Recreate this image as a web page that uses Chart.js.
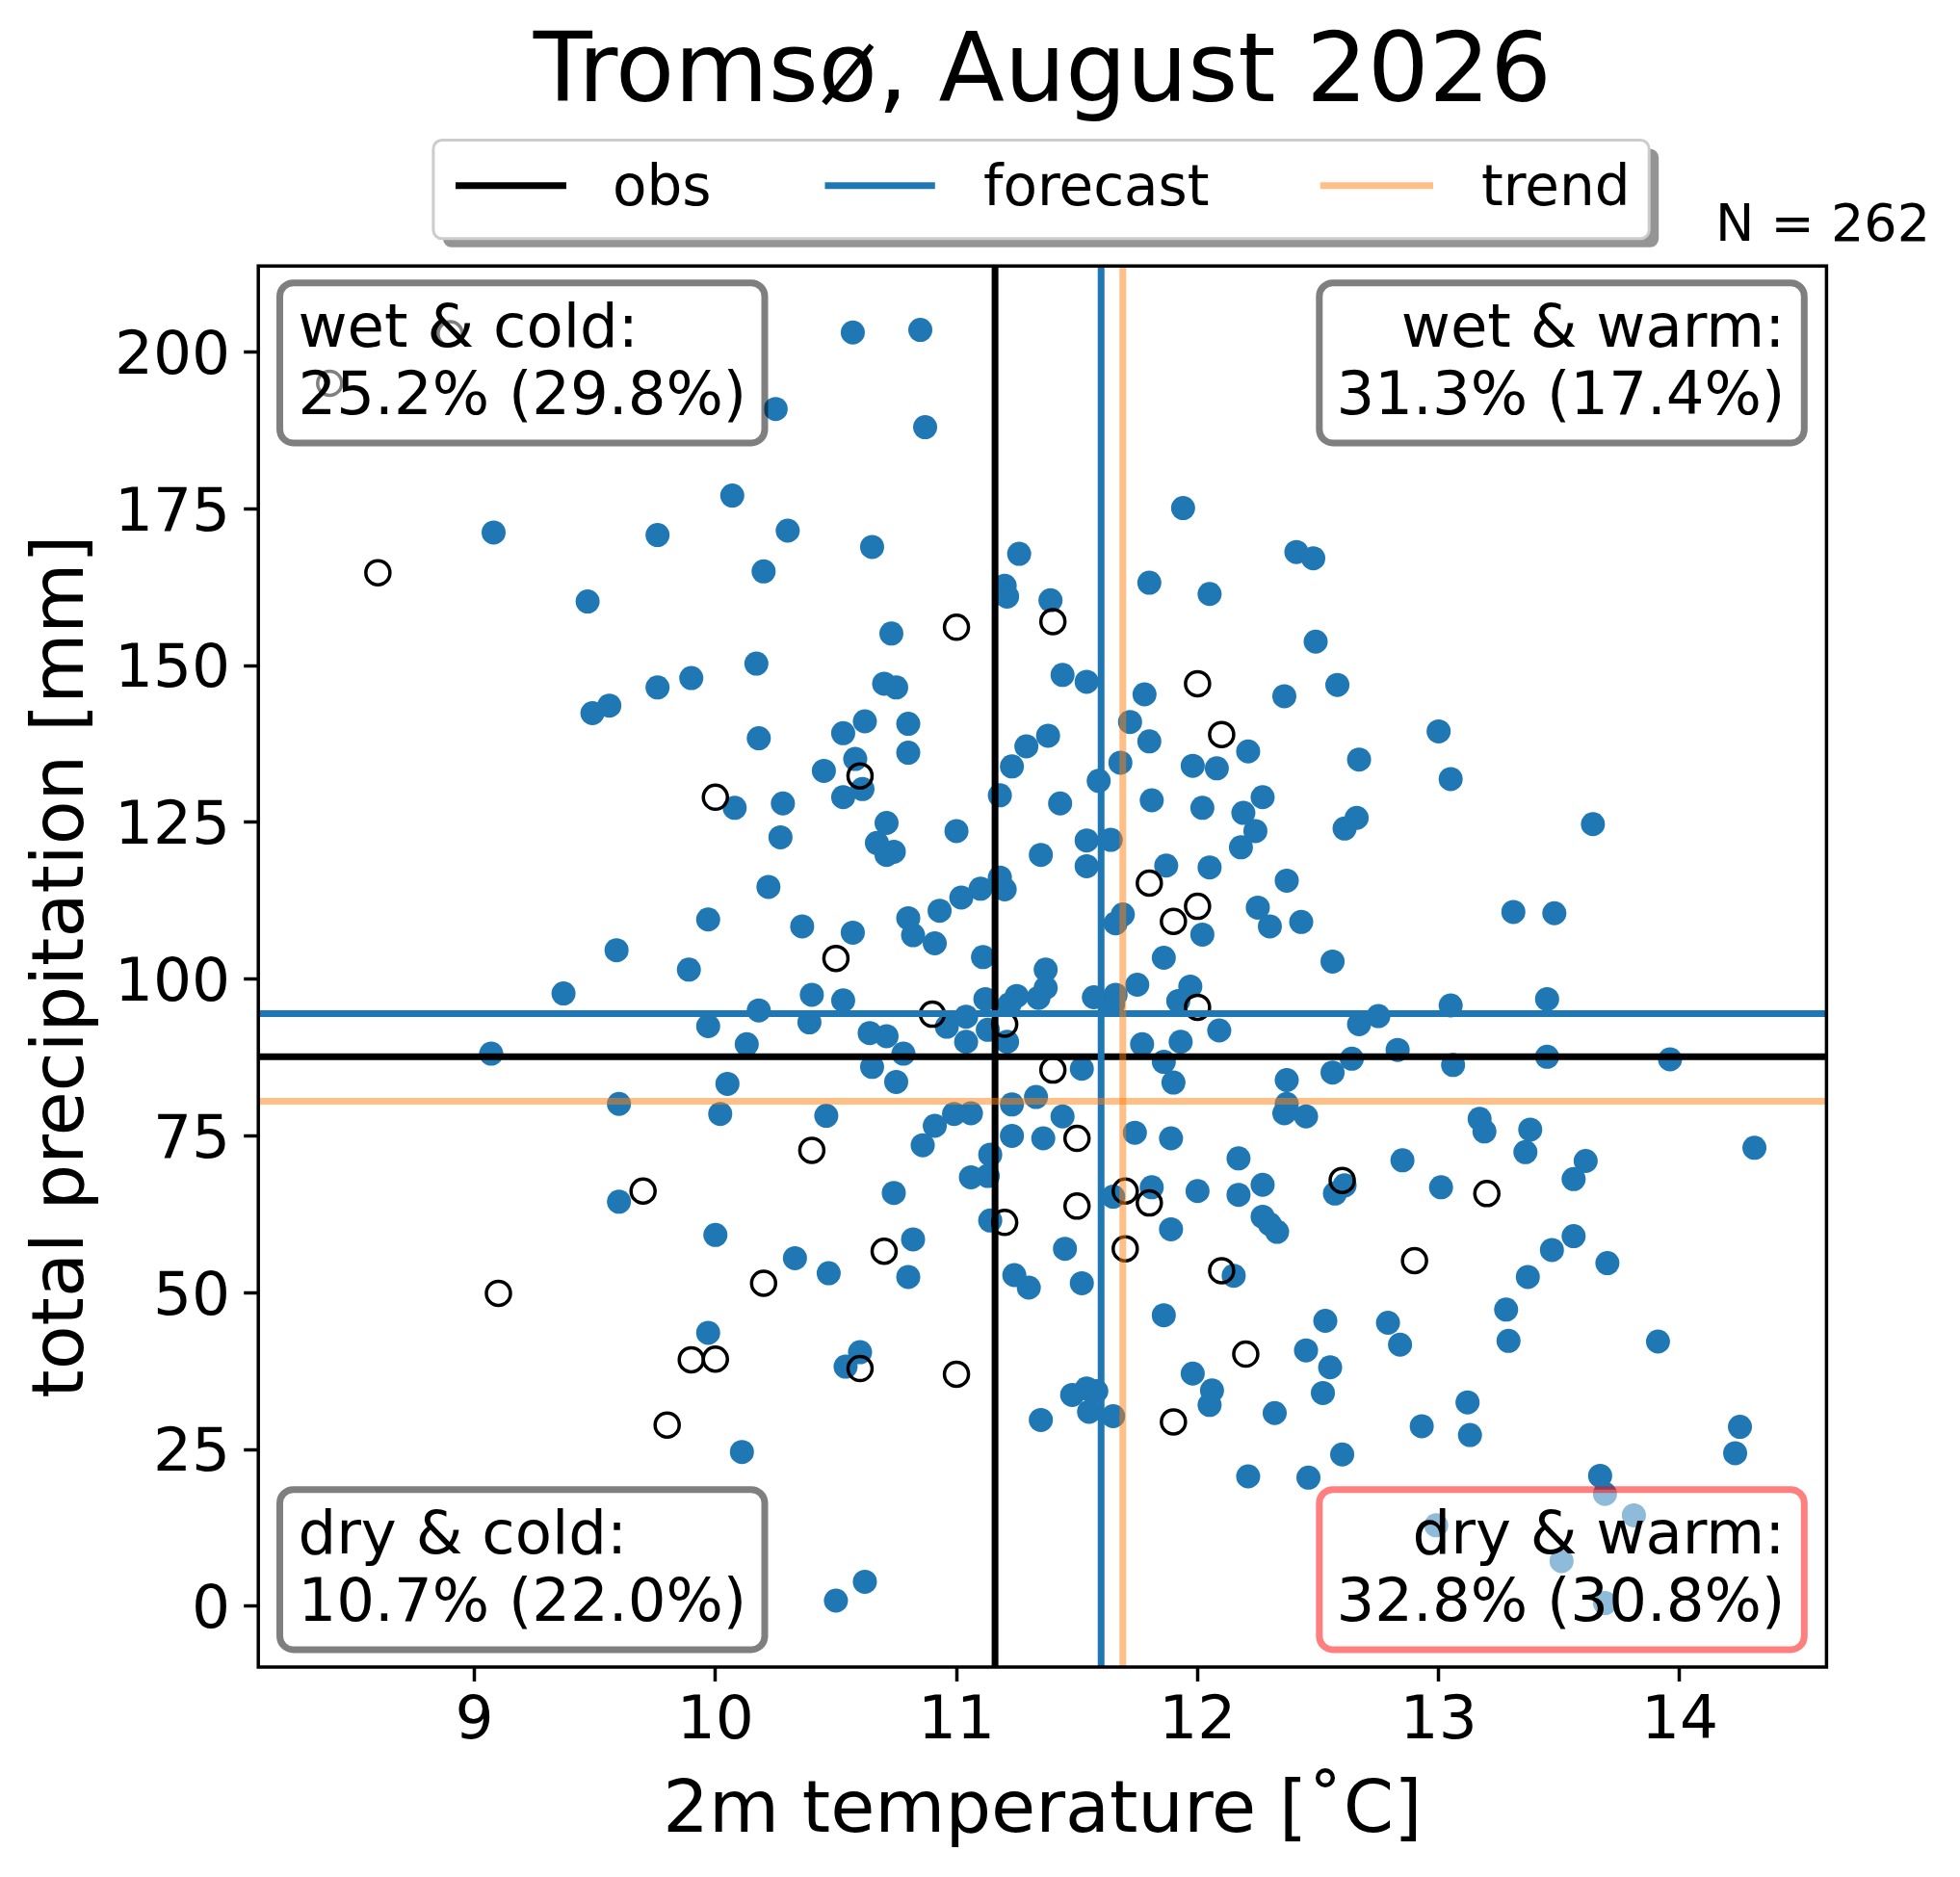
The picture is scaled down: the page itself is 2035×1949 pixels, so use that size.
<!DOCTYPE html>
<html>
<head>
<meta charset="utf-8">
<script src="https://cdn.jsdelivr.net/npm/chart.js@4.4.1/dist/chart.umd.min.js"></script>
<style>
  html, body { margin: 0; padding: 0; background: #ffffff; }
  #wrap { width: 2035px; height: 1949px; }
</style>
</head>
<body>
<div id="wrap"><canvas id="c" width="2035" height="1949"></canvas></div>
<script>
// ---------------- data ----------------
const forecastTemp = [10.25,10.07,9.08,9.76,10.30,10.20,9.47,10.17,9.90,9.76,9.56,9.49,10.18,
10.57,10.85,10.87,10.65,11.26,11.20,11.21,11.39,11.94,11.80,12.05,12.41,12.48,10.73,10.70,10.75,11.44,11.54,11.78,12.36,10.62,10.53,10.80,11.72,11.80,11.38,11.29,12.21,
12.49,12.58,13.00,
10.08,10.28,10.27,10.22,9.97,9.59,9.89,9.37,10.18,9.97,10.13,9.07,10.05,9.60,10.02,9.60,
10.80,10.58,10.61,10.45,10.53,10.71,10.67,10.71,10.74,11.00,
10.36,10.57,10.80,10.82,10.93,11.02,10.91,11.10,11.18,11.20,
11.11,11.18,11.23,11.98,12.08,11.68,11.59,11.81,12.02,12.27,
12.19,12.24,12.18,11.43,11.54,11.64,11.35,11.54,11.87,12.05,
12.02,12.37,12.25,12.30,12.43,11.66,11.69,11.86,11.75,11.97,
11.92,12.09,11.93,11.77,11.86,11.90,11.57,11.66,11.65,11.37,
11.37,11.34,11.25,11.22,11.12,11.13,11.21,11.04,10.96,11.04,
10.40,10.53,10.39,10.64,10.71,10.78,10.65,10.75,12.37,12.37,
12.45,12.36,10.46,11.33,11.23,11.44,10.99,11.06,10.91,10.86,
11.23,11.36,11.74,11.89,11.14,11.13,11.06,10.74,12.17,12.27,
12.17,12.00,11.81,11.65,11.52,
12.27,12.30,12.33,
12.67,13.05,12.66,12.61,13.64,13.31,13.48,12.56,13.05,13.45,
12.75,12.67,12.83,12.64,12.56,13.06,13.45,13.96,13.17,13.19,
13.38,13.36,14.31,12.85,13.61,13.56,12.61,12.57,13.01,
10.00,10.33,9.97,10.11,
10.47,10.82,10.80,11.14,11.89,11.45,11.24,11.30,11.52,11.86,
12.15,10.60,10.54,12.45,11.98,12.06,12.05,12.32,11.48,11.54,
11.58,11.55,11.65,11.35,12.21,12.46,10.62,10.50,
13.56,13.47,13.70,13.37,13.28,13.29,13.91,12.53,12.79,12.84,
12.55,12.52,13.12,13.13,12.93,12.60,14.25,14.23,13.67,13.69,
13.81,12.99,13.51,13.69];

const forecastPrecip = [190.9,177.1,171.2,170.8,171.5,165.0,160.2,150.3,148.0,146.5,143.6,142.4,138.4,
203.1,203.5,188.0,168.9,167.8,162.7,161.0,160.4,175.1,163.2,161.4,168.1,167.1,155.1,147.1,146.5,148.5,147.4,145.4,145.1,141.1,139.2,140.7,141.0,137.9,138.8,137.1,136.3,
153.8,146.9,139.5,
127.3,128.0,122.6,114.7,109.5,104.6,101.5,97.7,95.0,92.5,89.6,88.1,83.3,80.1,78.5,64.5,
136.1,135.1,130.3,133.2,129.0,124.9,121.7,119.8,120.3,123.6,
108.4,107.4,109.7,107.0,110.9,113.0,105.7,114.4,116.2,114.3,
103.5,129.3,133.9,134.0,133.6,134.5,131.6,128.5,127.3,129.0,
126.5,123.6,121.0,128.0,122.1,122.2,119.8,118.0,118.1,117.8,
107.1,115.7,111.4,108.4,109.1,108.9,110.3,103.4,99.1,98.8,
96.5,91.8,90.0,89.6,86.8,83.5,97.1,97.5,96.0,101.5,
98.6,97.0,97.3,96.0,96.8,91.9,90.0,94.0,92.4,90.0,
97.5,96.6,93.1,91.4,90.9,88.1,86.0,83.6,83.9,80.1,
78.1,78.6,78.2,81.2,80.0,78.1,78.5,78.6,76.6,73.5,
75.0,74.6,75.5,74.6,72.0,68.6,68.4,65.9,71.4,67.2,
65.6,66.2,66.8,65.3,85.7,
62.1,60.9,59.7,
135.0,131.9,125.7,124.0,124.7,110.7,110.5,102.8,95.8,96.8,
94.1,92.8,88.7,87.3,85.1,86.3,87.6,87.2,77.7,75.7,
76.0,72.4,73.1,71.1,71.0,68.1,67.1,65.8,66.8,
59.2,55.5,43.6,24.6,
53.1,58.5,52.5,61.5,60.1,57.0,52.8,50.8,51.5,46.4,
52.7,40.5,38.2,40.8,37.1,34.4,32.1,30.8,33.7,34.7,
34.3,31.0,30.3,29.7,20.7,20.5,3.9,0.9,
59.0,56.8,54.7,52.5,47.3,42.3,42.2,45.5,45.2,41.7,
38.1,34.0,32.5,27.3,28.7,24.2,28.6,24.4,20.8,17.9,
14.5,12.9,7.2,0.5];

const obsTemp = [8.4,8.9,8.6,11.4,11.0,12.0,12.1,10.0,10.6,10.5,
11.8,12.0,11.9,12.0,11.2,10.9,11.4,11.5,10.4,11.7,
11.8,11.5,9.7,12.6,13.2,10.2,9.1,9.9,10.0,9.8,
10.7,11.2,11.7,12.1,10.6,11.0,12.2,11.9,12.9];
const obsPrecip = [195.0,202.9,164.8,157.0,156.1,147.1,139.0,129.0,132.4,103.3,
115.3,111.6,109.2,95.5,92.8,94.4,85.5,74.6,72.7,66.2,
64.3,63.8,66.2,67.9,65.8,51.5,49.9,39.3,39.4,28.9,
56.6,61.2,57.0,53.5,37.9,37.0,40.2,29.4,55.1];

const meanNames = ['obs', 'forecast', 'trend'];
const meanTemp = [11.16, 11.60, 11.69];
const meanPrecip = [87.6, 94.5, 80.5];

const xTicks = [9, 10, 11, 12, 13, 14];
const yTicks = [0, 25, 50, 75, 100, 125, 150, 175, 200];
const xRange = [8.104, 14.609];
const yRange = [-9.7, 213.7];

const quadrantTitles = ['wet & cold:', 'wet & warm:', 'dry & cold:', 'dry & warm:'];
const quadrantShares = ['25.2% (29.8%)', '31.3% (17.4%)', '10.7% (22.0%)', '32.8% (30.8%)'];
const sampleSize = 262;

// ---------------- styles ----------------
const FONT = "'DejaVu Sans', 'Liberation Sans', sans-serif";
const meanColors = ['#000000', '#1f77b4', 'rgba(255,127,14,0.5)'];
const quadrantEdges = ['rgba(0,0,0,0.5)', 'rgba(0,0,0,0.5)', 'rgba(0,0,0,0.5)', 'rgba(255,0,0,0.5)'];

function roundRectPath(ctx, x, y, w, h, r) {
  ctx.beginPath();
  ctx.moveTo(x + r, y);
  ctx.lineTo(x + w - r, y);
  ctx.arcTo(x + w, y, x + w, y + r, r);
  ctx.lineTo(x + w, y + h - r);
  ctx.arcTo(x + w, y + h, x + w - r, y + h, r);
  ctx.lineTo(x + r, y + h);
  ctx.arcTo(x, y + h, x, y + h - r, r);
  ctx.lineTo(x, y + r);
  ctx.arcTo(x, y, x + r, y, r);
  ctx.closePath();
}

const datasets = [
  {
    label: 'forecast',
    type: 'scatter',
    data: forecastTemp.map((t, i) => ({ x: t, y: forecastPrecip[i] })),
    pointRadius: 12.5,
    pointHoverRadius: 12.5,
    backgroundColor: '#1f77b4',
    borderWidth: 0,
    order: 20
  },
  {
    label: 'obs',
    type: 'scatter',
    data: obsTemp.map((t, i) => ({ x: t, y: obsPrecip[i] })),
    pointRadius: 12.5,
    pointHoverRadius: 12.5,
    backgroundColor: 'rgba(0,0,0,0)',
    borderColor: '#000000',
    borderWidth: 3.5,
    order: 19
  }
];
meanNames.forEach((name, i) => {
  datasets.push({
    label: name + ' temperature',
    type: 'line',
    data: [{ x: meanTemp[i], y: yRange[0] }, { x: meanTemp[i], y: yRange[1] }],
    borderColor: meanColors[i],
    borderWidth: 7,
    pointRadius: 0,
    fill: false,
    order: 10 - 2 * i
  });
  datasets.push({
    label: name + ' precipitation',
    type: 'line',
    data: [{ x: xRange[0], y: meanPrecip[i] }, { x: xRange[1], y: meanPrecip[i] }],
    borderColor: meanColors[i],
    borderWidth: 7,
    pointRadius: 0,
    fill: false,
    order: 9 - 2 * i
  });
});

const decor = {
  id: 'decor',
  afterDatasetsDraw(chart) {
    const { ctx, chartArea: ca } = chart;
    ctx.save();
    // spines
    ctx.strokeStyle = '#000000';
    ctx.lineWidth = 3.5;
    ctx.strokeRect(ca.left, ca.top, ca.right - ca.left, ca.bottom - ca.top);

    // quadrant boxes
    const boxW = 503.5, boxH = 166.3;
    const pos = [
      { x: ca.left + 22.3, y: ca.top + 17.5, align: 'left' },
      { x: ca.right - 23.1 - boxW, y: ca.top + 17.5, align: 'right' },
      { x: ca.left + 22.3, y: ca.bottom - 18 - boxH, align: 'left' },
      { x: ca.right - 23.1 - boxW, y: ca.bottom - 18 - boxH, align: 'right' }
    ];
    pos.forEach((p, i) => {
      roundRectPath(ctx, p.x, p.y, boxW, boxH, 14);
      ctx.fillStyle = 'rgba(255,255,255,0.5)';
      ctx.fill();
      ctx.lineWidth = 7;
      ctx.strokeStyle = quadrantEdges[i];
      ctx.stroke();
      ctx.fillStyle = '#000000';
      ctx.font = '62.5px ' + FONT;
      ctx.textBaseline = 'alphabetic';
      ctx.textAlign = p.align;
      const tx = p.align === 'left' ? p.x + 19 : p.x + boxW - 20;
      ctx.fillText(quadrantTitles[i], tx, p.y + 66);
      ctx.fillText(quadrantShares[i], tx, p.y + 136);
    });
    ctx.restore();
  },
  afterDraw(chart) {
    const { ctx } = chart;
    ctx.save();
    // legend shadow + frame
    const lx = 449.9, ly = 145.5, lw = 1262.3, lh = 102.3;
    roundRectPath(ctx, lx + 10, ly + 9, lw, lh, 9);
    ctx.fillStyle = 'rgba(0,0,0,0.42)';
    ctx.fill();
    roundRectPath(ctx, lx, ly, lw, lh, 9);
    ctx.fillStyle = '#ffffff';
    ctx.fill();
    ctx.lineWidth = 3;
    ctx.strokeStyle = '#cccccc';
    ctx.stroke();
    // legend entries
    const lineX = [[473, 588], [856.5, 970.8], [1370.8, 1488]];
    const textX = [636, 1021, 1538];
    ctx.font = '58px ' + FONT;
    ctx.textBaseline = 'alphabetic';
    ctx.textAlign = 'left';
    meanNames.forEach((name, i) => {
      ctx.beginPath();
      ctx.moveTo(lineX[i][0], 192.7);
      ctx.lineTo(lineX[i][1], 192.7);
      ctx.strokeStyle = meanColors[i];
      ctx.lineWidth = 7;
      ctx.stroke();
      ctx.fillStyle = '#000000';
      ctx.fillText(name, textX[i], 213.3);
    });
    // sample size
    ctx.font = '54px ' + FONT;
    ctx.textAlign = 'right';
    ctx.fillText('N = ' + sampleSize, 2004, 250);
    ctx.restore();
  }
};

new Chart(document.getElementById('c'), {
  type: 'scatter',
  data: { datasets },
  plugins: [decor],
  options: {
    responsive: false,
    animation: false,
    devicePixelRatio: 1,
    layout: { padding: { left: 0, right: 138.6, top: 0, bottom: 0 } },
    plugins: {
      legend: { display: false },
      tooltip: { enabled: false },
      title: {
        display: true,
        text: 'Tromsø, August 2026',
        color: '#000000',
        fullSize: false,
        font: { family: FONT, size: 100, weight: 'normal', lineHeight: 1.2 },
        padding: { top: 19, bottom: 137.2 }
      }
    },
    scales: {
      x: {
        type: 'linear',
        position: 'bottom',
        min: xRange[0],
        max: xRange[1],
        afterBuildTicks: (s) => { s.ticks = xTicks.map(v => ({ value: v })); },
        afterFit: (s) => { s.height = 218; },
        grid: { display: true, drawOnChartArea: false, drawTicks: true, tickLength: 15, tickWidth: 3.5, tickColor: '#000000', color: '#000000' },
        border: { display: false },
        ticks: { autoSkip: false, maxRotation: 0, padding: 5, color: '#000000', font: { family: FONT, size: 63 }, callback: (v) => String(v) },
        title: { display: true, text: '2m temperature [˚C]', color: '#000000', font: { family: FONT, size: 75 }, padding: { top: 0, bottom: 21 } }
      },
      y: {
        type: 'linear',
        position: 'left',
        min: yRange[0],
        max: yRange[1],
        afterBuildTicks: (s) => { s.ticks = yTicks.map(v => ({ value: v })); },
        afterFit: (s) => { s.width = 268.2; },
        grid: { display: true, drawOnChartArea: false, drawTicks: true, tickLength: 15, tickWidth: 3.5, tickColor: '#000000', color: '#000000' },
        border: { display: false },
        ticks: { autoSkip: false, padding: 14, labelOffset: 6, color: '#000000', font: { family: FONT, size: 63 }, callback: (v) => String(v) },
        title: { display: true, text: 'total precipitation [mm]', color: '#000000', font: { family: FONT, size: 75 }, padding: { top: 22, bottom: 0 } }
      }
    }
  }
});
</script>
</body>
</html>
